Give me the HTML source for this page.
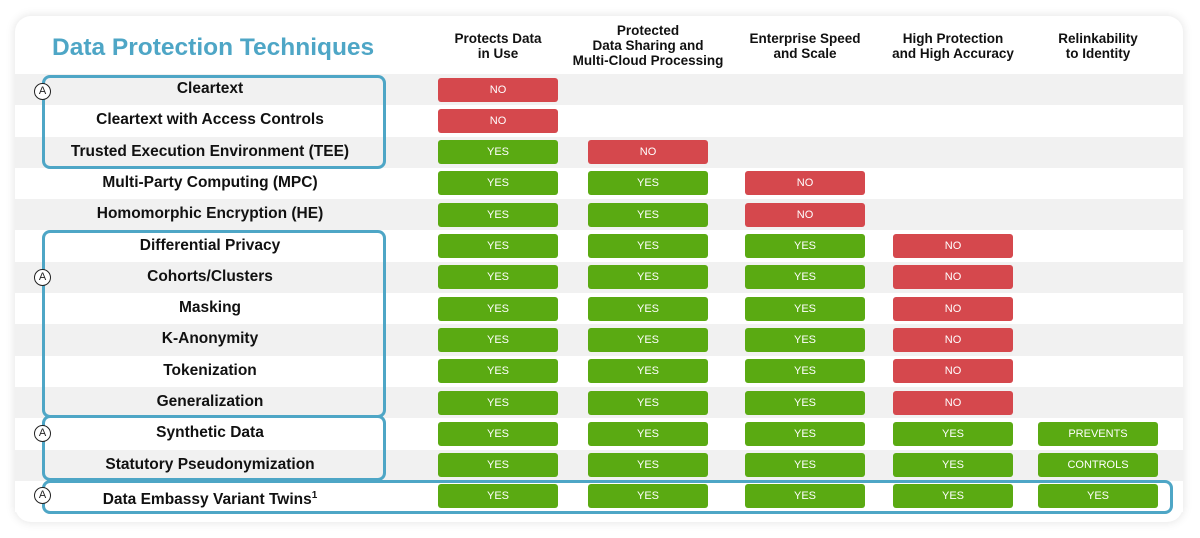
<!DOCTYPE html>
<html><head><meta charset="utf-8"><style>
body{margin:0;width:1200px;height:538px;background:#fff;font-family:"Liberation Sans",sans-serif;overflow:hidden;position:relative}
.card{position:absolute;left:15px;top:16px;width:1168px;height:506px;background:#fff;border-radius:16px;box-shadow:0 0 10px rgba(0,0,0,0.12)}
.row{position:absolute;left:15px;width:1168px;height:31.3px}
.lbl{position:absolute;left:40px;width:340px;text-align:center;font-weight:bold;font-size:15.5px;color:#111;line-height:31px}
.pill{position:absolute;width:120px;height:24px;border-radius:3px;color:#fff;font-size:11px;text-align:center;line-height:24px}
.hdr{position:absolute;top:30px;width:170px;text-align:center;font-weight:bold;font-size:13.5px;line-height:15px;color:#111}
.box{position:absolute;border:3.5px solid #4ea6c6;border-radius:8px;box-sizing:border-box}
.ic{position:absolute;left:34px;width:17px;height:17px;border:1.5px solid #222;border-radius:50%;box-sizing:border-box;font-size:11px;line-height:14px;text-align:center;background:#fff;color:#222}
</style></head><body>
<div class="card"></div>
<div style="position:absolute;left:52px;top:34px;font-size:24.5px;font-weight:bold;color:#4ea6c6">Data Protection Techniques</div>
<div id="root"></div>
<script>
const headers=["Protects Data<br>in Use","Protected<br>Data Sharing and<br>Multi-Cloud Processing","Enterprise Speed<br>and Scale","High Protection<br>and High Accuracy","Relinkability<br>to Identity"];
const techniques=["Cleartext","Cleartext with Access Controls","Trusted Execution Environment (TEE)","Multi-Party Computing (MPC)","Homomorphic Encryption (HE)","Differential Privacy","Cohorts/Clusters","Masking","K-Anonymity","Tokenization","Generalization","Synthetic Data","Statutory Pseudonymization","Data Embassy Variant Twins<sup style='font-size:10px'>1</sup>"];
const values=[["NO"],["NO"],["YES","NO"],["YES","YES","NO"],["YES","YES","NO"],
["YES","YES","YES","NO"],["YES","YES","YES","NO"],["YES","YES","YES","NO"],["YES","YES","YES","NO"],["YES","YES","YES","NO"],["YES","YES","YES","NO"],
["YES","YES","YES","YES","PREVENTS"],["YES","YES","YES","YES","CONTROLS"],["YES","YES","YES","YES","YES"]];
const colX=[498,648,805,953,1098];
const hdrTop=[30,22,30,30,30];
const root=document.getElementById('root');
const top0=74,pitch=31.3;
headers.forEach((h,i)=>{const d=document.createElement('div');d.className='hdr';


d.style.left=(colX[i]-85)+'px';d.style.top=(i==1?23:31)+'px';d.innerHTML=h;root.appendChild(d);});
techniques.forEach((t,r)=>{const y=top0+r*pitch;
const row=document.createElement('div');row.className='row';


row.style.top=y+'px';row.style.background=r%2==0?'#f1f1f1':'#fff';root.appendChild(row);
const l=document.createElement('div');l.className='lbl';


l.style.top=(y-1)+'px';l.innerHTML=t;root.appendChild(l);
values[r].forEach((v,c)=>{const p=document.createElement('div');p.className='pill';


p.style.left=(colX[c]-60)+'px';p.style.top=(y+3.5)+'px';p.style.background=v=='NO'?'#d5484d':'#5aaa12';p.textContent=v;root.appendChild(p);});
});
const boxes=[[42,75,344,94],[42,230,344,188],[42,415,344,66],[42,480,1131,34]];
boxes.forEach(b=>{const d=document.createElement('div');d.className='box';


d.style.left=b[0]+'px';d.style.top=b[1]+'px';d.style.width=b[2]+'px';d.style.height=b[3]+'px';root.appendChild(d);});
[83,269,425,487].forEach(y=>{const d=document.createElement('div');d.className='ic';


d.style.top=y+'px';d.textContent='A';root.appendChild(d);});
</script>
</body></html>
